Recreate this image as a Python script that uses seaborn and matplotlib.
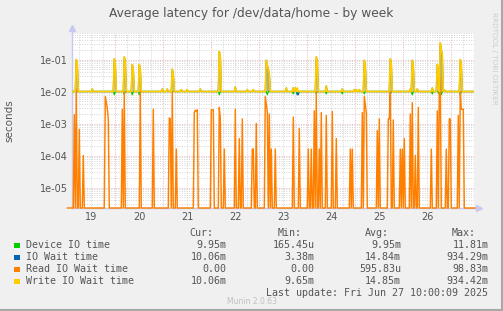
import numpy as np
import pandas as pd
import matplotlib
matplotlib.use("Agg")
import matplotlib.pyplot as plt
import seaborn as sns
from matplotlib.patches import Rectangle
from matplotlib.lines import Line2D

sns.set_style("white")
plt.rcParams['font.family'] = ['DejaVu Sans']

# ---------------- data ----------------
day_labels = [19, 20, 21, 22, 23, 24, 25, 26]
ytick_vals = [1e-5, 1e-4, 1e-3, 1e-2, 1e-1]

# Read IO wait time: spikes from zero (day, seconds)
read_days = [18.646, 18.696, 18.75, 18.833, 19.292, 19.3125, 19.333, 19.3625,
             19.64, 19.6875, 20.015, 20.29, 20.625, 20.646, 20.68, 20.765,
             21.14, 21.1625, 21.1875, 21.21, 21.51, 21.53, 21.55, 21.66, 21.6875,
             21.765, 21.994, 22.083, 22.14, 22.35, 22.375, 22.43, 22.62, 22.646,
             22.667, 22.70, 22.758, 22.84, 23.20, 23.333, 23.515, 23.583, 23.646,
             23.6875, 23.75, 23.79, 23.89, 24.02, 24.11, 24.40, 24.44, 24.646,
             24.6875, 24.71, 24.73, 24.958, 25.0, 25.18, 25.2, 25.2375, 25.29,
             25.4375, 25.48, 25.515, 25.646, 25.6875, 25.75, 25.82, 26.083,
             26.21, 26.24, 26.27, 26.40, 26.46, 26.48, 26.646, 26.6875, 26.71,
             26.73, 26.75]
read_vals = [1.9e-3, 1.2e-2, 6.6e-4, 1.0e-4, 7e-3, 4.5e-3, 3e-3, 1.35e-3,
             2.8e-3, 1.0e-2, 1.0e-2, 2.8e-3, 1.5e-3, 1.4e-3, 1.0e-2, 1.6e-4,
             2.2e-3, 2.6e-3, 2.4e-3, 2.7e-3, 2.7e-3, 2.7e-3, 2.7e-3, 3.2e-3, 1.5e-3,
             1.6e-4, 2.8e-3, 3.4e-4, 1.4e-3, 1.6e-4, 1.6e-4, 1.0e-3, 7e-3, 4e-3,
             2.3e-3, 2.0e-3, 1.6e-4, 1.6e-4, 1.6e-3, 7e-4, 1.6e-4, 1.6e-4, 2.5e-3,
             1.0e-2, 1.6e-4, 2.2e-3, 1.8e-3, 2.4e-3, 3.4e-4, 1.6e-4, 1.6e-4, 2.2e-3,
             7e-3, 4e-3, 2.2e-3, 6e-4, 1.4e-3, 1.4e-3, 1.4e-3, 1.0e-2, 1.3e-3,
             1.6e-4, 1.6e-4, 3.4e-4, 2.0e-3, 4.5e-3, 1.0e-4, 3.2e-3, 1.6e-4,
             2.5e-3, 1.0e-2, 2.7e-2, 1.6e-4, 1.4e-3, 1.4e-3, 1.8e-3, 1.0e-2, 2.8e-3,
             2.8e-3, 2.8e-3]

# Write IO wait time: baseline with spikes / bumps
write_base = 1.006e-2
write_days = [18.696, 19.4875, 19.6875, 19.8625, 20.0, 20.696, 21.667, 22.654,
              22.6875, 23.6875, 24.6875, 25.2375, 25.6875, 26.21, 26.27, 26.29,
              26.6875,
              19.015, 20.47, 20.59, 20.88, 20.99, 21.28, 21.99, 22.26, 22.37,
              23.06, 23.2, 23.25, 23.3, 23.9, 24.23, 24.47, 24.52, 24.58, 25.64,
              25.79, 26.1, 26.36]
write_vals = [0.10, 0.105, 0.12, 0.07, 0.07, 0.05, 0.18, 0.095,
              0.05, 0.12, 0.095, 0.105, 0.095, 0.07, 0.33, 0.2,
              0.10,
              1.2e-2, 1.2e-2, 1.2e-2, 1.15e-2, 1.15e-2, 1.2e-2, 1.4e-2, 1.15e-2, 1.15e-2,
              1.3e-2, 1.3e-2, 1.3e-2, 1.3e-2, 1.5e-2, 1.2e-2, 1.15e-2, 1.15e-2, 1.15e-2, 1.2e-2,
              1.2e-2, 1.3e-2, 1.15e-2]

# Device IO time: baseline (hidden under write line) with dips
device_base = 1.006e-2
device_days = [19.4875, 19.6875, 19.8625, 20.0, 21.667, 22.67, 23.2, 23.3,
               23.6875, 23.9, 24.23, 24.6875, 25.2375, 25.6875, 26.1, 26.25,
               26.3, 26.6875]
device_vals = [8e-3, 8e-3, 8e-3, 8e-3, 8e-3, 8e-3, 8.5e-3, 8.5e-3,
               8.5e-3, 8.5e-3, 8.5e-3, 8.5e-3, 8e-3, 8e-3, 8.5e-3, 8e-3,
               8e-3, 8e-3]

# IO wait time: follows write time, a few dips
iowait_days = [23.3, 23.32]
iowait_vals = [8e-3, 8e-3]

legend_rows = ["Device IO time", "IO Wait time", "Read IO Wait time", "Write IO Wait time"]
cur_vals = ["9.95m", "10.06m", "0.00", "10.06m"]
min_vals = ["165.45u", "3.38m", "0.00", "9.65m"]
avg_vals = ["9.95m", "14.84m", "595.83u", "14.85m"]
max_vals = ["11.81m", "934.29m", "98.83m", "934.42m"]
colors = ["#00CC00", "#0066B3", "#FF8000", "#FFCC00"]

# ---------------- geometry ----------------
W, H = 503, 311
ymin, ymax = 10 ** -5.639, 10 ** -0.153
xmin, xmax = 18.598, 26.973

# 30-minute sample grid
t = 18.5 + np.arange(int((27.0 - 18.5) * 48) + 1) / 48.0
def idx(d):
    return int(round((d - 18.5) * 48))

read = np.full(t.shape, ymin)
for d, v in zip(read_days, read_vals):
    read[idx(d)] = v
write = np.full(t.shape, write_base)
for d, v in zip(write_days, write_vals):
    write[idx(d)] = v
    if v > 0.03:
        write[idx(d) + 1] = max(write[idx(d) + 1], v * 0.7)
device = np.full(t.shape, device_base)
for d, v in zip(device_days, device_vals):
    device[idx(d)] = v
iowait = write.copy()
for d, v in zip(iowait_days, iowait_vals):
    iowait[idx(d)] = v

df = pd.DataFrame({"t": t, "read": read, "write": write, "device": device, "iowait": iowait})

fig = plt.figure(figsize=(W / 100, H / 100), dpi=100, facecolor="#F0F0F0")
ax = fig.add_axes([72 / W, 1 - 208 / H, (474 - 72) / W, (208 - 32.5) / H])
ax.set_facecolor("white")
ax.set_yscale("log")
ax.set_xlim(xmin, xmax)
ax.set_ylim(ymin, ymax)

# grid
minor_c = "#D4D4D4"
major_c = "#E6B4B4"
dash = (0, (1, 1.5))
for k in np.arange(18.75, 27.0, 0.25):
    if abs(k - round(k - 0.5) - 0.5) > 1e-6:
        ax.axvline(k, color=minor_c, lw=0.7, ls=dash, zorder=0)
for k in np.arange(18.5, 27.0, 1.0):
    if xmin < k < xmax:
        ax.axvline(k, color=major_c, lw=0.7, ls=dash, zorder=0)
for e in range(-6, 0):
    for m in range(2, 10):
        v = m * 10.0 ** e
        if ymin < v < ymax:
            ax.axhline(v, color=minor_c, lw=0.7, ls=dash, zorder=0)
for v in ytick_vals:
    ax.axhline(v, color=major_c, lw=0.7, ls=dash, zorder=0)

# axis lines and arrows (under the data lines)
axc = "#C8C8F0"
ax.plot([0, 0], [0, 1.02], transform=ax.transAxes, color=axc, lw=1.0, clip_on=False, zorder=0.5)
ax.plot([0, 1.01], [0, 0], transform=ax.transAxes, color=axc, lw=1.0, clip_on=False, zorder=0.5)
ax.plot([0], [1.025], transform=ax.transAxes, marker="^", ms=5, color=axc, clip_on=False, zorder=0.5)
ax.plot([1.012], [0], transform=ax.transAxes, marker=">", ms=5, color=axc, clip_on=False, zorder=0.5)

ax.fill_between(df["t"], write_base, df["write"], where=df["write"] > 0.02,
                color="#B4B070", lw=0, zorder=1)
sns.lineplot(data=df, x="t", y="device", ax=ax, color=colors[0], lw=0.9, estimator=None, zorder=2)
sns.lineplot(data=df, x="t", y="iowait", ax=ax, color=colors[1], lw=0.9, estimator=None, zorder=3)
sns.lineplot(data=df, x="t", y="read", ax=ax, color=colors[2], lw=1.05, estimator=None, zorder=4,
             clip_on=False)
sns.lineplot(data=df, x="t", y="write", ax=ax, color=colors[3], lw=1.25, estimator=None, zorder=5)

for s in ax.spines.values():
    s.set_visible(False)
ax.set_xlabel("")
ax.set_ylabel("seconds", fontsize=7.5, color="#555555")
ax.yaxis.set_label_coords(-58 / 402, 0.5)
ax.set_xticks(day_labels)
ax.set_xticklabels([str(d) for d in day_labels])
ax.set_yticks(ytick_vals)
ax.set_yticklabels([f"{v:.0e}" for v in ytick_vals])
ax.minorticks_off()
ax.tick_params(axis="both", length=0, labelsize=7, colors="#555555", pad=3)

def fx(x): return x / W
def fy(y): return 1 - y / H

fig.text(fx(251), fy(14), "Average latency for /dev/data/home - by week",
         ha="center", va="center", fontsize=8.8, color="#555555")
fig.text(fx(494), fy(12), "RRDTOOL / TOBI OETIKER", rotation=270, ha="center", va="top",
         fontsize=5.2, color="#CCCCCC")

mono = "DejaVu Sans Mono"
tc = "#555555"
fs = 7.2
hdr_y = 233.5
for txt, xr in zip(["Cur:", "Min:", "Avg:", "Max:"], [213.5, 301.5, 388.5, 475.5]):
    fig.text(fx(xr), fy(hdr_y), txt, ha="right", va="center", fontsize=fs, family=mono, color=tc)
rows_y = [245.3, 257.3, 269.3, 281.3]
for i, name in enumerate(legend_rows):
    y = rows_y[i]
    fig.patches.append(Rectangle((fx(14), fy(y + 2.7)), 5.5 / W, 5.5 / H, transform=fig.transFigure,
                                 facecolor=colors[i], edgecolor="none"))
    fig.text(fx(26), fy(y), name, ha="left", va="center", fontsize=fs, family=mono, color=tc)
    for vals, xr in zip([cur_vals, min_vals, avg_vals, max_vals], [226.7, 314.3, 401.0, 488.3]):
        fig.text(fx(xr), fy(y), vals[i], ha="right", va="center", fontsize=fs, family=mono, color=tc)
fig.text(fx(488.3), fy(293), "Last update: Fri Jun 27 10:00:09 2025", ha="right", va="center",
         fontsize=fs, family=mono, color=tc)
fig.text(fx(252), fy(301), "Munin 2.0.63", ha="center", va="center", fontsize=5.5, color="#C0C0C0")

# image frame
fig.add_artist(Line2D([fx(501.5), fx(501.5)], [0, 1], color="#A8A8A8", lw=1.5, transform=fig.transFigure))
fig.add_artist(Line2D([0, 1], [fy(309.5), fy(309.5)], color="#A8A8A8", lw=1.5, transform=fig.transFigure))

fig.savefig("out.png", dpi=100, facecolor=fig.get_facecolor())
